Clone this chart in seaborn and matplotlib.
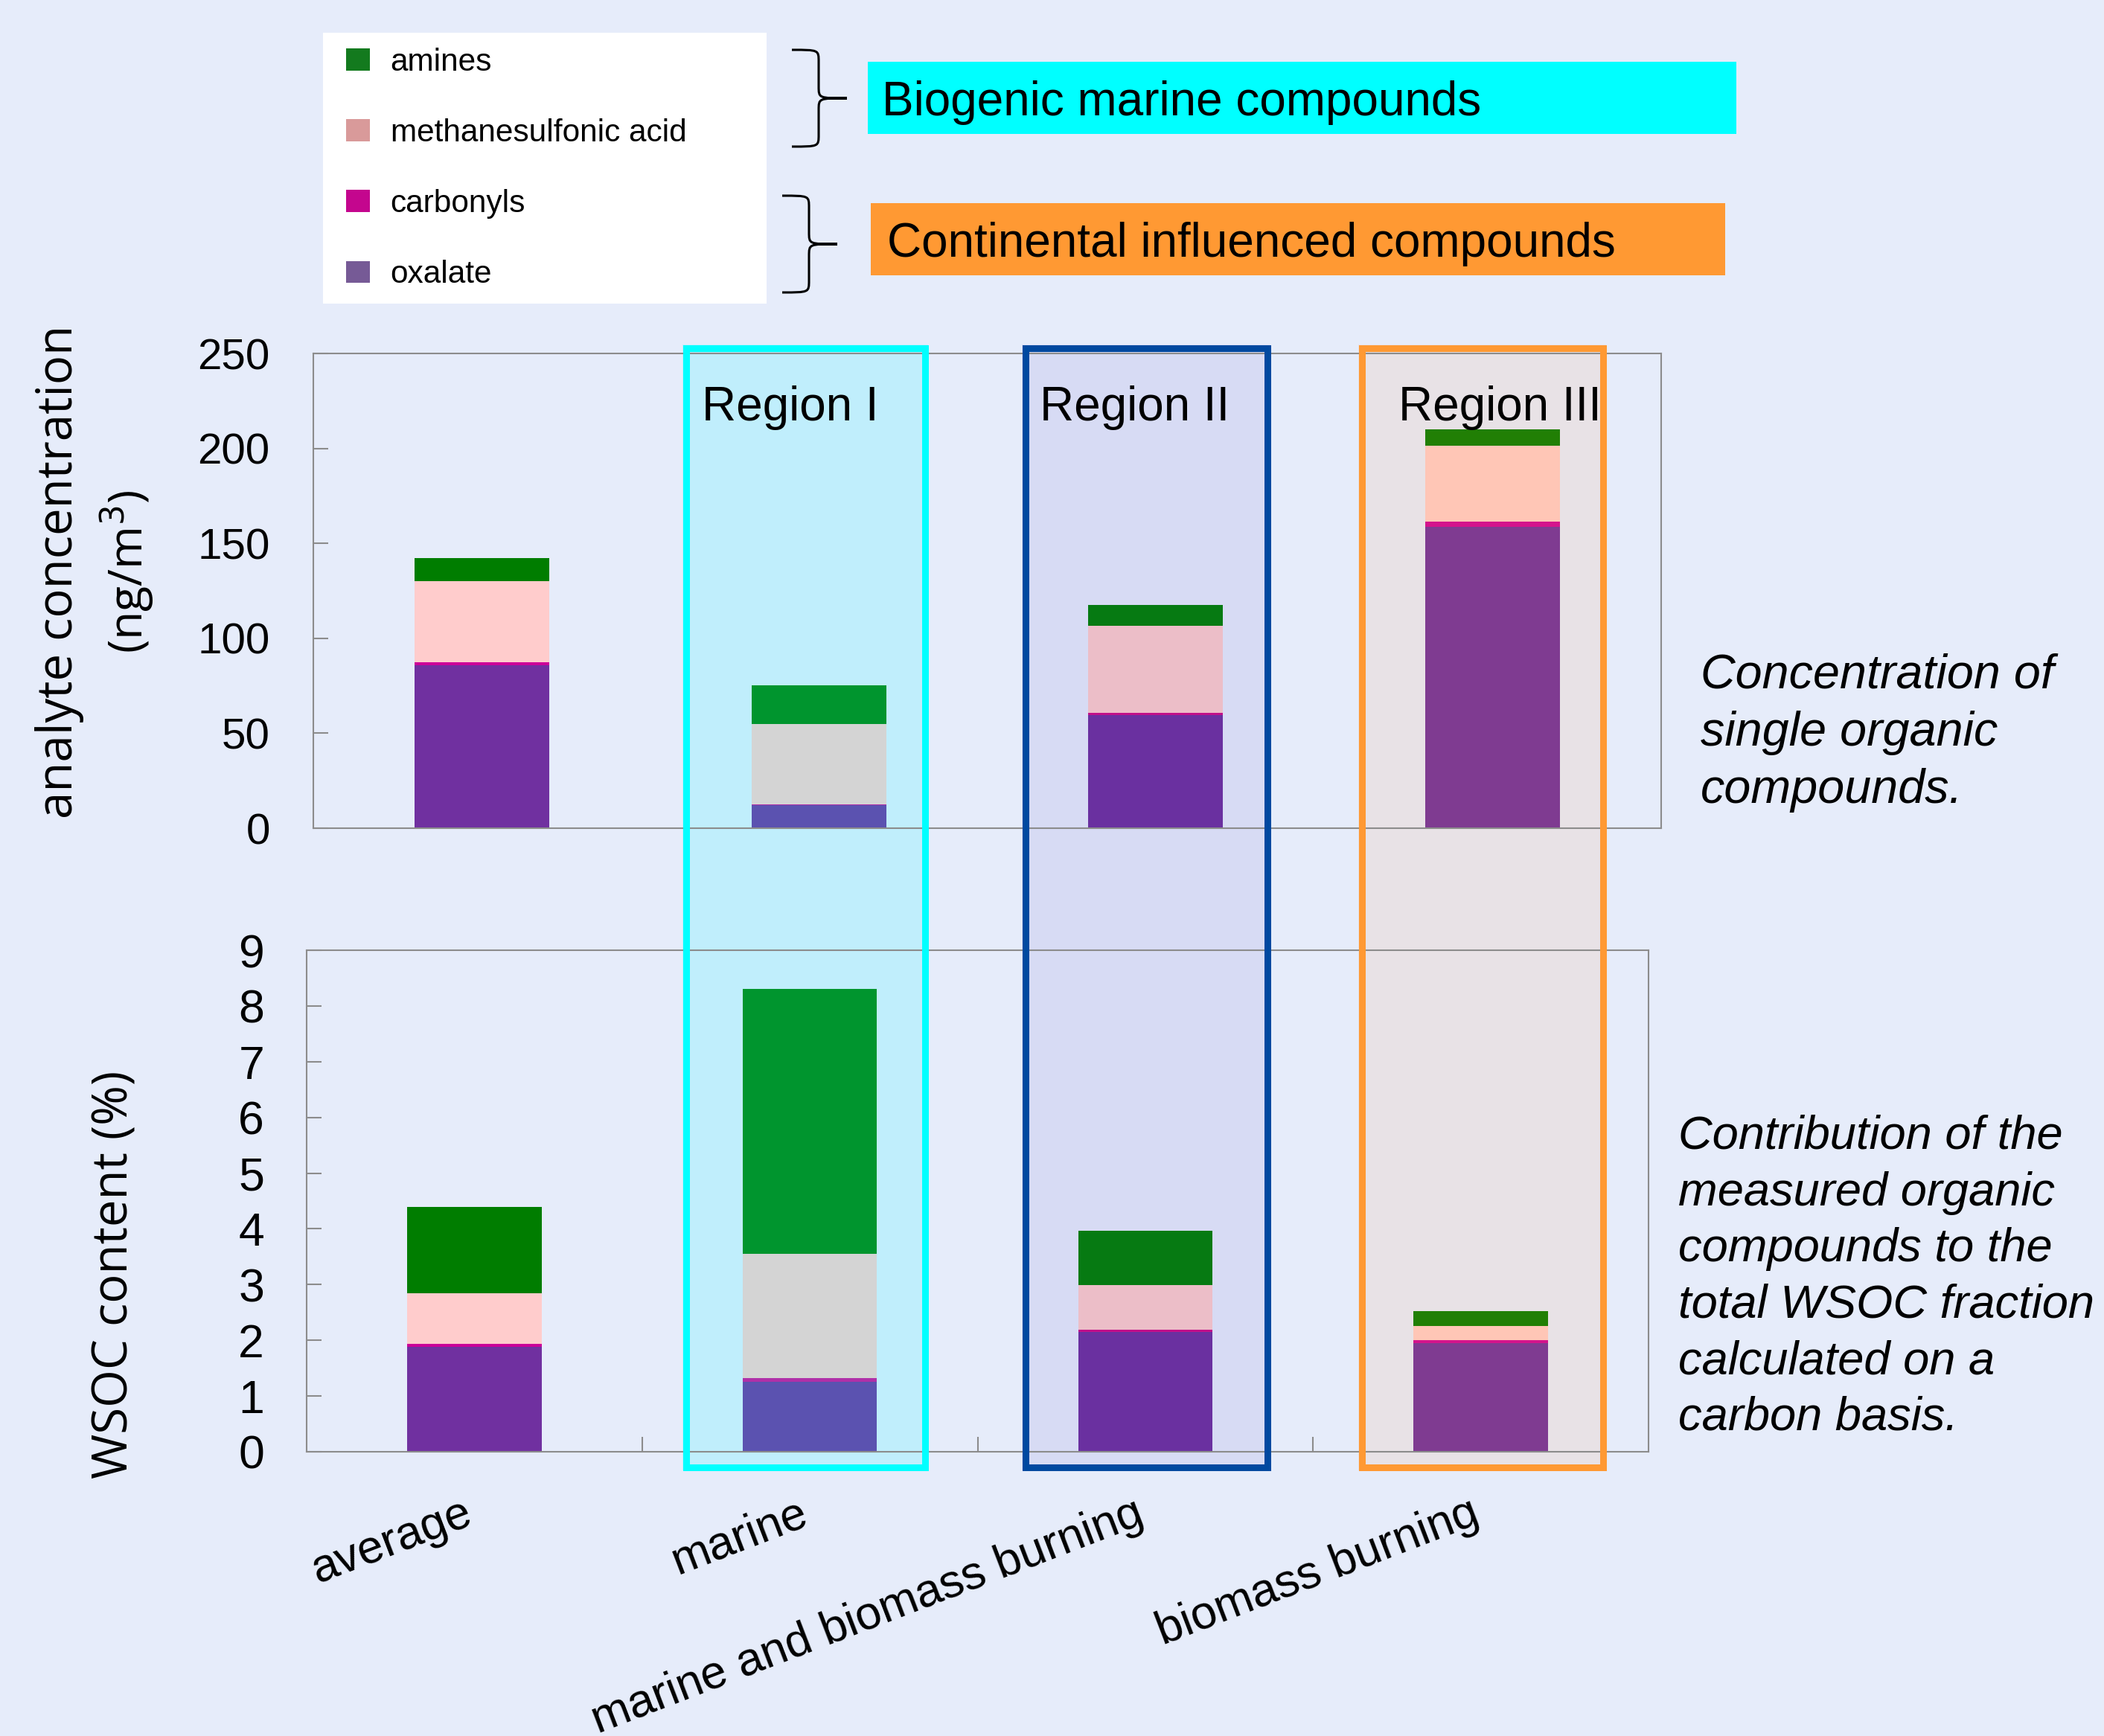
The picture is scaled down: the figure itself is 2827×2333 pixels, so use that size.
import numpy as np
import matplotlib
matplotlib.use("Agg")
import matplotlib.pyplot as plt
import seaborn as sns
from matplotlib.patches import Rectangle, Patch, PathPatch
from matplotlib.path import Path

categories = ["average", "marine", "marine and biomass burning", "biomass burning"]
compounds = ["amines", "methanesulfonic acid", "carbonyls", "oxalate"]

# analyte concentration (ng/m3), stacked bottom -> top
conc_oxalate = [85.8, 12.3, 59.7, 158.8]
conc_carbonyls = [1.4, 0.3, 1.1, 2.8]
conc_msa = [42.9, 42.4, 45.7, 39.8]
conc_amines = [12.3, 20.3, 11.2, 8.8]

# WSOC content (%)
wsoc_oxalate = [1.88, 1.26, 2.15, 1.95]
wsoc_carbonyls = [0.05, 0.06, 0.04, 0.05]
wsoc_msa = [0.92, 2.23, 0.80, 0.26]
wsoc_amines = [1.54, 4.75, 0.97, 0.26]

# colours per segment, one per category
col_oxalate = ["#7030A0", "#5B52B0", "#6A30A0", "#7F3B91"]
col_carbonyls = ["#CC0099", "#B030A8", "#C0108A", "#D4148C"]
col_msa = ["#FFCCCC", "#D4D4D4", "#ECBEC8", "#FFC6B6"]
col_amines = ["#007D00", "#00952E", "#067A12", "#217F05"]
legend_colors = ["#137A1E", "#D99A9A", "#C4068E", "#765A96"]

BG = "#E6ECFA"
SPINE = "#8C8C8C"
W, H = 2827, 2333

sns.set_theme(style="white")
plt.rcParams["font.family"] = ["Liberation Sans", "DejaVu Sans"]
plt.rcParams["text.color"] = "black"
plt.rcParams["xtick.labelcolor"] = "black"
plt.rcParams["ytick.labelcolor"] = "black"

fig = plt.figure(figsize=(W / 100, H / 100), dpi=100, facecolor=BG)


def fx(x):
    return x / W


def fy(y):
    return 1 - y / H


# region boxes (fill behind axes, outline on top)
regions = [(917, 1247, "#00FFFF", "#C0EEFC", "Region I", 943),
           (1373, 1707, "#0049A0", "#D7DBF4", "Region II", 1397),
           (1825, 2158, "#FF9933", "#E8E2E6", "Region III", 1879)]
lw_px = 9
for x0, x1, ec, fc, name, tx in regions:
    y0, y1 = 463, 1976
    fig.patches.append(Rectangle((fx(x0), fy(y1)), fx(x1) - fx(x0), fy(y0) - fy(y1),
                                 transform=fig.transFigure, facecolor=fc,
                                 edgecolor="none", zorder=-1))
    fig.patches.append(Rectangle((fx(x0 + lw_px / 2), fy(y1 - lw_px / 2)),
                                 fx(x1 - x0 - lw_px), (y1 - y0 - lw_px) / H,
                                 transform=fig.transFigure, facecolor="none",
                                 edgecolor=ec, linewidth=lw_px * 0.72, zorder=3))
    fig.text(fx(tx), fy(565), name, fontsize=46, va="baseline", ha="left", zorder=4)

ax1 = fig.add_axes([fx(421), fy(1113), fx(2232 - 421), (1113 - 475) / H])
ax2 = fig.add_axes([fx(412), fy(1951), fx(2215 - 412), (1951 - 1277) / H])


def stacked(ax, layers, colors):
    cum = np.cumsum(np.array(layers), axis=0)
    for i in reversed(range(len(layers))):
        sns.barplot(x=categories, y=cum[i], hue=categories, order=categories,
                    hue_order=categories, palette=dict(zip(categories, colors[i])),
                    width=0.4, saturation=1, legend=False, errorbar=None,
                    linewidth=0, ax=ax)


stacked(ax1, [conc_oxalate, conc_carbonyls, conc_msa, conc_amines],
        [col_oxalate, col_carbonyls, col_msa, col_amines])
stacked(ax2, [wsoc_oxalate, wsoc_carbonyls, wsoc_msa, wsoc_amines],
        [col_oxalate, col_carbonyls, col_msa, col_amines])

for ax in (ax1, ax2):
    ax.set_facecolor("none")
    ax.set_xlim(-0.5, 3.5)
    ax.set_xlabel("")
    ax.set_ylabel("")
    for s in ax.spines.values():
        s.set_visible(True)
        s.set_color(SPINE)
        s.set_linewidth(1.5)

ax1.set_ylim(0, 250)
ax1.set_yticks(np.arange(0, 251, 50))
ax1.set_xticks([])
ax1.tick_params(axis="y", direction="in", length=14.4, width=1.5, color=SPINE,
                labelsize=42, pad=42, left=True)

ax2.set_ylim(0, 9)
ax2.set_yticks(np.arange(0, 10, 1))
ax2.tick_params(axis="y", direction="in", length=14.4, width=1.5, color=SPINE,
                labelsize=45, pad=41, left=True)
ax2.set_xticks([0.5, 1.5, 2.5])
ax2.set_xticklabels([])
ax2.set_xticks([c + 0.012 for c in range(len(categories))], minor=True)
ax2.set_xticklabels(categories, minor=True, rotation=21, ha="right", va="top",
                    fontsize=45)
ax2.tick_params(axis="x", which="major", direction="in", length=14.4, width=1.5,
                color=SPINE, bottom=True)
ax2.tick_params(axis="x", which="minor", length=0, pad=38, bottom=True)

# y labels
fig.text(fx(80), fy(768), "analyte concentration", rotation=90, ha="center",
         va="center", fontsize=47, family=["Open Sans", "DejaVu Sans"])
fig.text(fx(171), fy(768), "(ng/m$^3$)", rotation=90, ha="center",
         va="center", fontsize=45, family=["Open Sans", "DejaVu Sans"])
fig.text(fx(155), fy(1713), "WSOC content (%)", rotation=90, ha="center",
         va="center", fontsize=47, family=["Open Sans", "DejaVu Sans"])

# legend
fig.patches.append(Rectangle((fx(434), fy(408)), fx(1030 - 434), (408 - 44) / H,
                             transform=fig.transFigure, facecolor="white",
                             edgecolor="none", zorder=1))
handles = [Patch(facecolor=c, edgecolor="none") for c in legend_colors]
fig.legend(handles, compounds, loc="upper left", bbox_to_anchor=(fx(465), fy(64)),
           frameon=False, fontsize=30.5, borderpad=0, borderaxespad=0,
           handlelength=0.75, handleheight=0.7, handletextpad=0.66,
           labelspacing=1.3)


# braces
def brace(x0, xv, xt, y0, y1, r=16):
    ym = (y0 + y1) / 2
    pts = [(x0, y0), (xv, y0), (xv, y0), (xv, y0 + r),
           (xv, ym - r),
           (xv, ym), (xv, ym), (xt, ym),
           (xv, ym), (xv, ym), (xv, ym + r),
           (xv, y1 - r),
           (xv, y1), (xv, y1), (x0, y1)]
    codes = [Path.MOVETO, Path.CURVE4, Path.CURVE4, Path.CURVE4,
             Path.LINETO,
             Path.CURVE4, Path.CURVE4, Path.CURVE4,
             Path.CURVE4, Path.CURVE4, Path.CURVE4,
             Path.LINETO,
             Path.CURVE4, Path.CURVE4, Path.CURVE4]
    path = Path([(fx(a), fy(b)) for a, b in pts], codes)
    fig.patches.append(PathPatch(path, transform=fig.transFigure, fill=False,
                                 edgecolor="black", linewidth=2.2, zorder=3))


brace(1064, 1100, 1138, 67, 197)
brace(1051, 1087, 1125, 263, 393)

# group labels
fig.patches.append(Rectangle((fx(1166), fy(180)), fx(2333 - 1166), (180 - 83) / H,
                             transform=fig.transFigure, facecolor="#00FFFF",
                             edgecolor="none", zorder=1))
fig.text(fx(1185), fy(155), "Biogenic marine compounds", fontsize=46,
         va="baseline", ha="left", zorder=2)
fig.patches.append(Rectangle((fx(1170), fy(370)), fx(2318 - 1170), (370 - 273) / H,
                             transform=fig.transFigure, facecolor="#FF9933",
                             edgecolor="none", zorder=1))
fig.text(fx(1192), fy(345), "Continental influenced compounds", fontsize=46,
         va="baseline", ha="left", zorder=2)

# side notes
fig.text(fx(2285), fy(878), "Concentration of\nsingle organic\ncompounds.",
         fontsize=46.5, style="italic", ha="left", va="top", linespacing=1.36)
fig.text(fx(2255), fy(1498),
         "Contribution of the\nmeasured organic\ncompounds to the\n"
         "total WSOC fraction\ncalculated on a\ncarbon basis.",
         fontsize=45.5, style="italic", ha="left", va="top", linespacing=1.36)

fig.savefig("out.png", dpi=100, facecolor=BG)
